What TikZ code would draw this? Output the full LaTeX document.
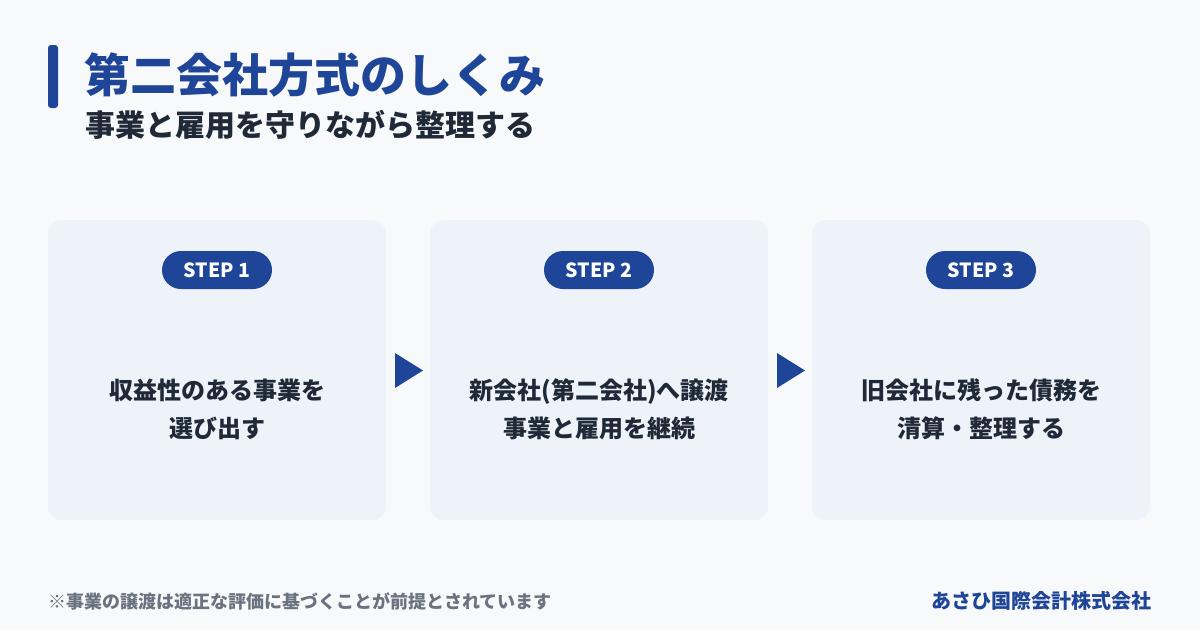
\documentclass[tikz,border=0pt]{standalone}
\usepackage{fontspec}
\setmainfont{Noto Sans CJK JP}
\definecolor{bg}{HTML}{F8F9FB}
\definecolor{card}{HTML}{EEF2F9}
\definecolor{navy}{HTML}{1E4597}
\definecolor{ink}{HTML}{1F2937}
\definecolor{note}{HTML}{6B7280}
\tikzset{
 card/.style={fill=card,rounded corners=14pt,draw=none},
 pill/.style={fill=navy,rounded corners=19pt,minimum width=110pt,minimum height=38pt,text=white,font=\bfseries\fontsize{19.5}{19.5}\selectfont,inner sep=0pt},
 body/.style={text=ink,align=center,font=\bfseries\fontsize{24}{38}\selectfont},
 tri/.style={fill=navy,draw=none}
}
\begin{document}
\begin{tikzpicture}[x=1pt,y=-1pt]
\fill[bg] (0,0) rectangle (1200,630);
\useasboundingbox (0,0) rectangle (1200,630);
\fill[navy,rounded corners=3pt] (48,45) rectangle (58,108);
\node[anchor=west,text=navy,font=\bfseries\fontsize{46}{46}\selectfont,inner sep=0pt] (title) at (84,75) {第二会社方式のしくみ};
\node[anchor=west,text=ink,font=\bfseries\fontsize{30}{30}\selectfont,inner sep=0pt] (sub) at (85,125) {事業と雇用を守りながら整理する};
\foreach \i/\x/\t in {1/48/{収益性のある事業を\\選び出す},2/430/{新会社(第二会社)へ譲渡\\事業と雇用を継続},3/812/{旧会社に残った債務を\\清算・整理する}}{
  \fill[card] (\x,220) rectangle ++(338,300);
  \node[pill] (p\i) at (\x+169,270) {STEP \i};
  \node[body] (b\i) at (\x+169,409) {\t};
}
\fill[tri] (395,353) -- (423,370.5) -- (395,388) -- cycle;
\fill[tri] (777,353) -- (805,370.5) -- (777,388) -- cycle;
\node[anchor=west,text=note,font=\bfseries\fontsize{18}{18}\selectfont,inner sep=0pt] (fn) at (48,601) {※事業の譲渡は適正な評価に基づくことが前提とされています};
\node[anchor=east,text=navy,font=\bfseries\fontsize{20}{20}\selectfont,inner sep=0pt] (brand) at (1152,601) {あさひ国際会計株式会社};
\end{tikzpicture}
\end{document}
